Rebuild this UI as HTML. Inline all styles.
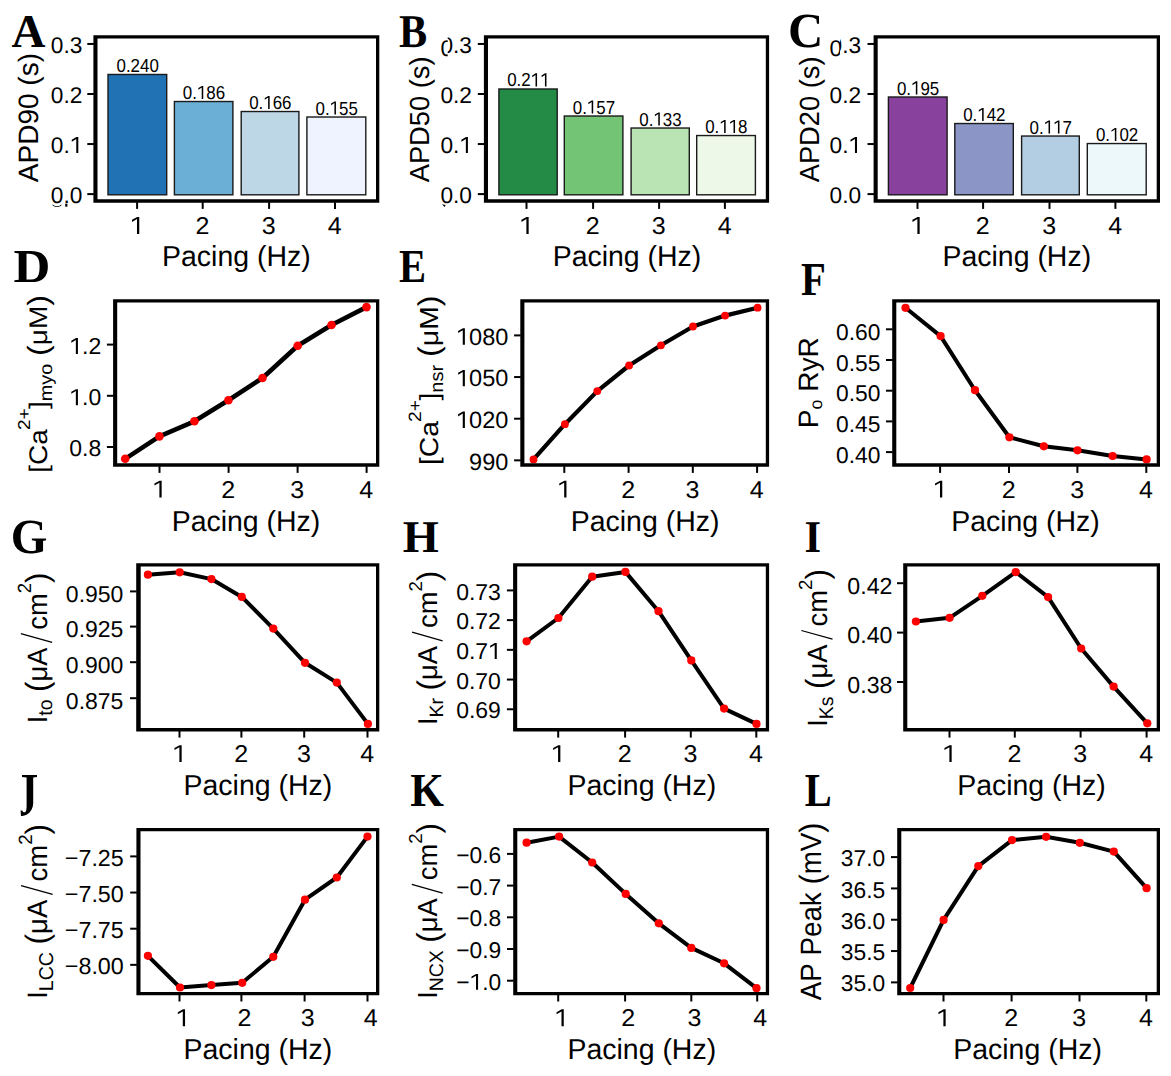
<!DOCTYPE html>
<html><head><meta charset="utf-8"><style>
html,body{margin:0;padding:0;background:#fff;}
svg{display:block;}
text{font-kerning:none;text-rendering:geometricPrecision;}
</style></head><body>
<svg width="1171" height="1076" viewBox="0 0 1171 1076">
<rect width="1171" height="1076" fill="#fff"/>
<line x1="87.3" y1="43.95" x2="93.9" y2="43.95" stroke="#000" stroke-width="2"/>
<g transform="translate(50.84 52.85)" fill="#000"><text x="0" y="0" font-size="22.7" font-family='"Liberation Sans", sans-serif' font-weight="normal">0.3</text></g>
<line x1="87.3" y1="94" x2="93.9" y2="94" stroke="#000" stroke-width="2"/>
<g transform="translate(50.84 102.9)" fill="#000"><text x="0" y="0" font-size="22.7" font-family='"Liberation Sans", sans-serif' font-weight="normal">0.2</text></g>
<line x1="87.3" y1="144.05" x2="93.9" y2="144.05" stroke="#000" stroke-width="2"/>
<g transform="translate(50.84 152.95)" fill="#000"><text x="0" y="0" font-size="22.7" font-family='"Liberation Sans", sans-serif'>0. </text><path d="M25.42 0 L25.42 -13.91 L20.93 -11.19 L20.93 -13.19 L25.58 -15.85 L27.47 -15.85 L27.47 0Z"/></g>
<line x1="87.3" y1="194.1" x2="93.9" y2="194.1" stroke="#000" stroke-width="2"/>
<g transform="translate(50.84 203)" fill="#000"><text x="0" y="0" font-size="22.7" font-family='"Liberation Sans", sans-serif' font-weight="normal">0.0</text></g>
<rect x="108" y="74.48" width="58.7" height="120.32" fill="#2171b5" stroke="#1a1a1a" stroke-width="1.4"/>
<g transform="translate(116.48 71.98) scale(0.9000 1)" fill="#000"><text x="0" y="0" font-size="18.8" font-family='"Liberation Sans", sans-serif' font-weight="normal">0.240</text></g>
<rect x="174.4" y="101.51" width="58.5" height="93.29" fill="#6baed6" stroke="#1a1a1a" stroke-width="1.4"/>
<g transform="translate(182.78 99.01) scale(0.9000 1)" fill="#000"><text x="0" y="0" font-size="18.8" font-family='"Liberation Sans", sans-serif'>0. 86</text><path d="M21.05 0 L21.05 -11.52 L17.33 -9.27 L17.33 -10.92 L21.19 -13.13 L22.75 -13.13 L22.75 0Z"/></g>
<rect x="241.2" y="111.52" width="57.7" height="83.28" fill="#bdd7e7" stroke="#1a1a1a" stroke-width="1.4"/>
<g transform="translate(249.18 109.02) scale(0.9000 1)" fill="#000"><text x="0" y="0" font-size="18.8" font-family='"Liberation Sans", sans-serif'>0. 66</text><path d="M21.05 0 L21.05 -11.52 L17.33 -9.27 L17.33 -10.92 L21.19 -13.13 L22.75 -13.13 L22.75 0Z"/></g>
<rect x="306.9" y="117.02" width="58.9" height="77.78" fill="#eff3ff" stroke="#1a1a1a" stroke-width="1.4"/>
<g transform="translate(315.48 114.52) scale(0.9000 1)" fill="#000"><text x="0" y="0" font-size="18.8" font-family='"Liberation Sans", sans-serif'>0. 55</text><path d="M21.05 0 L21.05 -11.52 L17.33 -9.27 L17.33 -10.92 L21.19 -13.13 L22.75 -13.13 L22.75 0Z"/></g>
<line x1="137.1" y1="202.2" x2="137.1" y2="208.9" stroke="#000" stroke-width="2"/>
<g transform="translate(129.84 233.9) scale(1.0300 1)" fill="#000"><text x="0" y="0" font-size="24.3" font-family='"Liberation Sans", sans-serif'> </text><path d="M6.94 0 L6.94 -14.89 L2.14 -11.98 L2.14 -14.12 L7.12 -16.97 L9.14 -16.97 L9.14 0Z"/></g>
<line x1="202.7" y1="202.2" x2="202.7" y2="208.9" stroke="#000" stroke-width="2"/>
<g transform="translate(195.44 233.9) scale(1.0300 1)" fill="#000"><text x="0" y="0" font-size="24.3" font-family='"Liberation Sans", sans-serif' font-weight="normal">2</text></g>
<line x1="269.1" y1="202.2" x2="269.1" y2="208.9" stroke="#000" stroke-width="2"/>
<g transform="translate(261.84 233.9) scale(1.0300 1)" fill="#000"><text x="0" y="0" font-size="24.3" font-family='"Liberation Sans", sans-serif' font-weight="normal">3</text></g>
<line x1="335" y1="202.2" x2="335" y2="208.9" stroke="#000" stroke-width="2"/>
<g transform="translate(327.74 233.9) scale(1.0300 1)" fill="#000"><text x="0" y="0" font-size="24.3" font-family='"Liberation Sans", sans-serif' font-weight="normal">4</text></g>
<path d="M93.4 35.2H97.5V202.7H93.4Z M93.4 35.2H379.3V38.5H93.4Z M376 35.2H379.3V202.7H376Z M93.4 199.3H379.3V202.7H93.4Z" fill="#000"/>
<g transform="translate(162.06 266.3) scale(0.9850 1)" fill="#000"><text x="0" y="0" font-size="28.9" font-family='"Liberation Sans", sans-serif' font-weight="normal">Pacing (Hz)</text></g>
<g transform="translate(38.2 182.25) rotate(-90) scale(1.0006 1)"><text font-family='"Liberation Sans", sans-serif' fill="#000"><tspan x="0" y="0" font-size="28.02">APD90 (s)</tspan></text></g>
<g transform="translate(11.44 46.9) scale(0.9997 1)" fill="#000"><text x="0" y="0" font-size="46.96" font-family='"Liberation Serif", serif' font-weight="bold">A</text></g>
<line x1="477.8" y1="43.95" x2="484.4" y2="43.95" stroke="#000" stroke-width="2"/>
<clipPath id="spBR"><rect x="447.7" y="30" width="60" height="30"/></clipPath>
<clipPath id="spBL"><rect x="387.7" y="30" width="60" height="30"/></clipPath>
<g clip-path="url(#spBR)"><g transform="translate(440.44 52.85)" fill="#000"><text x="0" y="0" font-size="22.7" font-family='"Liberation Sans", sans-serif' font-weight="normal">0.3</text></g></g>
<g clip-path="url(#spBL)"><g transform="translate(0 3.4)"><g transform="translate(440.44 52.85)" fill="#000"><text x="0" y="0" font-size="22.7" font-family='"Liberation Sans", sans-serif' font-weight="normal">0.3</text></g></g></g>
<line x1="477.8" y1="94" x2="484.4" y2="94" stroke="#000" stroke-width="2"/>
<g transform="translate(440.44 102.9)" fill="#000"><text x="0" y="0" font-size="22.7" font-family='"Liberation Sans", sans-serif' font-weight="normal">0.2</text></g>
<line x1="477.8" y1="144.05" x2="484.4" y2="144.05" stroke="#000" stroke-width="2"/>
<g transform="translate(440.44 152.95)" fill="#000"><text x="0" y="0" font-size="22.7" font-family='"Liberation Sans", sans-serif'>0. </text><path d="M25.42 0 L25.42 -13.91 L20.93 -11.19 L20.93 -13.19 L25.58 -15.85 L27.47 -15.85 L27.47 0Z"/></g>
<line x1="477.8" y1="194.1" x2="484.4" y2="194.1" stroke="#000" stroke-width="2"/>
<g transform="translate(440.44 203)" fill="#000"><text x="0" y="0" font-size="22.7" font-family='"Liberation Sans", sans-serif' font-weight="normal">0.0</text></g>
<rect x="498.9" y="88.99" width="58.3" height="105.81" fill="#238b45" stroke="#1a1a1a" stroke-width="1.4"/>
<g transform="translate(507.18 86.49) scale(0.9000 1)" fill="#000"><text x="0" y="0" font-size="18.8" font-family='"Liberation Sans", sans-serif'>0.2  </text><path d="M31.5 0 L31.5 -11.52 L27.79 -9.27 L27.79 -10.92 L31.64 -13.13 L33.2 -13.13 L33.2 0Z"/><path d="M41.96 0 L41.96 -11.52 L38.24 -9.27 L38.24 -10.92 L42.1 -13.13 L43.66 -13.13 L43.66 0Z"/></g>
<rect x="564.3" y="116.02" width="58.6" height="78.78" fill="#74c476" stroke="#1a1a1a" stroke-width="1.4"/>
<g transform="translate(572.73 113.52) scale(0.9000 1)" fill="#000"><text x="0" y="0" font-size="18.8" font-family='"Liberation Sans", sans-serif'>0. 57</text><path d="M21.05 0 L21.05 -11.52 L17.33 -9.27 L17.33 -10.92 L21.19 -13.13 L22.75 -13.13 L22.75 0Z"/></g>
<rect x="631.1" y="128.03" width="58.2" height="66.77" fill="#bae4b3" stroke="#1a1a1a" stroke-width="1.4"/>
<g transform="translate(639.33 125.53) scale(0.9000 1)" fill="#000"><text x="0" y="0" font-size="18.8" font-family='"Liberation Sans", sans-serif'>0. 33</text><path d="M21.05 0 L21.05 -11.52 L17.33 -9.27 L17.33 -10.92 L21.19 -13.13 L22.75 -13.13 L22.75 0Z"/></g>
<rect x="696.7" y="135.54" width="58.7" height="59.26" fill="#edf8e9" stroke="#1a1a1a" stroke-width="1.4"/>
<g transform="translate(705.18 133.04) scale(0.9000 1)" fill="#000"><text x="0" y="0" font-size="18.8" font-family='"Liberation Sans", sans-serif'>0.  8</text><path d="M21.05 0 L21.05 -11.52 L17.33 -9.27 L17.33 -10.92 L21.19 -13.13 L22.75 -13.13 L22.75 0Z"/><path d="M31.5 0 L31.5 -11.52 L27.79 -9.27 L27.79 -10.92 L31.64 -13.13 L33.2 -13.13 L33.2 0Z"/></g>
<line x1="526.5" y1="202.2" x2="526.5" y2="208.9" stroke="#000" stroke-width="2"/>
<g transform="translate(519.24 233.9) scale(1.0300 1)" fill="#000"><text x="0" y="0" font-size="24.3" font-family='"Liberation Sans", sans-serif'> </text><path d="M6.94 0 L6.94 -14.89 L2.14 -11.98 L2.14 -14.12 L7.12 -16.97 L9.14 -16.97 L9.14 0Z"/></g>
<line x1="593.1" y1="202.2" x2="593.1" y2="208.9" stroke="#000" stroke-width="2"/>
<g transform="translate(585.84 233.9) scale(1.0300 1)" fill="#000"><text x="0" y="0" font-size="24.3" font-family='"Liberation Sans", sans-serif' font-weight="normal">2</text></g>
<line x1="659.1" y1="202.2" x2="659.1" y2="208.9" stroke="#000" stroke-width="2"/>
<g transform="translate(651.84 233.9) scale(1.0300 1)" fill="#000"><text x="0" y="0" font-size="24.3" font-family='"Liberation Sans", sans-serif' font-weight="normal">3</text></g>
<line x1="724.9" y1="202.2" x2="724.9" y2="208.9" stroke="#000" stroke-width="2"/>
<g transform="translate(717.64 233.9) scale(1.0300 1)" fill="#000"><text x="0" y="0" font-size="24.3" font-family='"Liberation Sans", sans-serif' font-weight="normal">4</text></g>
<path d="M483.9 35.2H488V202.7H483.9Z M483.9 35.2H769.1V38.5H483.9Z M765.8 35.2H769.1V202.7H765.8Z M483.9 199.3H769.1V202.7H483.9Z" fill="#000"/>
<g transform="translate(552.66 266.3) scale(0.9850 1)" fill="#000"><text x="0" y="0" font-size="28.9" font-family='"Liberation Sans", sans-serif' font-weight="normal">Pacing (Hz)</text></g>
<g transform="translate(429.19 182.25) rotate(-90) scale(0.9883 1)"><text font-family='"Liberation Sans", sans-serif' fill="#000"><tspan x="0" y="0" font-size="27.59">APD50 (s)</tspan></text></g>
<g transform="translate(399.1 46.76) scale(0.8963 1)" fill="#000"><text x="0" y="0" font-size="47.13" font-family='"Liberation Serif", serif' font-weight="bold">B</text></g>
<line x1="867.5" y1="43.95" x2="874.1" y2="43.95" stroke="#000" stroke-width="2"/>
<clipPath id="spCR"><rect x="840.1" y="30" width="60" height="30"/></clipPath>
<clipPath id="spCL"><rect x="780.1" y="30" width="60" height="30"/></clipPath>
<g clip-path="url(#spCR)"><g transform="translate(829.54 52.85)" fill="#000"><text x="0" y="0" font-size="22.7" font-family='"Liberation Sans", sans-serif' font-weight="normal">0.3</text></g></g>
<g clip-path="url(#spCL)"><g transform="translate(0 2.8)"><g transform="translate(829.54 52.85)" fill="#000"><text x="0" y="0" font-size="22.7" font-family='"Liberation Sans", sans-serif' font-weight="normal">0.3</text></g></g></g>
<line x1="867.5" y1="94" x2="874.1" y2="94" stroke="#000" stroke-width="2"/>
<g transform="translate(829.54 102.9)" fill="#000"><text x="0" y="0" font-size="22.7" font-family='"Liberation Sans", sans-serif' font-weight="normal">0.2</text></g>
<line x1="867.5" y1="144.05" x2="874.1" y2="144.05" stroke="#000" stroke-width="2"/>
<g transform="translate(829.54 152.95)" fill="#000"><text x="0" y="0" font-size="22.7" font-family='"Liberation Sans", sans-serif'>0. </text><path d="M25.42 0 L25.42 -13.91 L20.93 -11.19 L20.93 -13.19 L25.58 -15.85 L27.47 -15.85 L27.47 0Z"/></g>
<line x1="867.5" y1="194.1" x2="874.1" y2="194.1" stroke="#000" stroke-width="2"/>
<g transform="translate(829.54 203)" fill="#000"><text x="0" y="0" font-size="22.7" font-family='"Liberation Sans", sans-serif' font-weight="normal">0.0</text></g>
<rect x="888.4" y="97" width="58.7" height="97.8" fill="#88419d" stroke="#1a1a1a" stroke-width="1.4"/>
<g transform="translate(896.88 94.5) scale(0.9000 1)" fill="#000"><text x="0" y="0" font-size="18.8" font-family='"Liberation Sans", sans-serif'>0. 95</text><path d="M21.05 0 L21.05 -11.52 L17.33 -9.27 L17.33 -10.92 L21.19 -13.13 L22.75 -13.13 L22.75 0Z"/></g>
<rect x="954.8" y="123.53" width="58.5" height="71.27" fill="#8c96c6" stroke="#1a1a1a" stroke-width="1.4"/>
<g transform="translate(963.18 121.03) scale(0.9000 1)" fill="#000"><text x="0" y="0" font-size="18.8" font-family='"Liberation Sans", sans-serif'>0. 42</text><path d="M21.05 0 L21.05 -11.52 L17.33 -9.27 L17.33 -10.92 L21.19 -13.13 L22.75 -13.13 L22.75 0Z"/></g>
<rect x="1021.6" y="136.04" width="57.7" height="58.76" fill="#b3cde3" stroke="#1a1a1a" stroke-width="1.4"/>
<g transform="translate(1029.58 133.54) scale(0.9000 1)" fill="#000"><text x="0" y="0" font-size="18.8" font-family='"Liberation Sans", sans-serif'>0.  7</text><path d="M21.05 0 L21.05 -11.52 L17.33 -9.27 L17.33 -10.92 L21.19 -13.13 L22.75 -13.13 L22.75 0Z"/><path d="M31.5 0 L31.5 -11.52 L27.79 -9.27 L27.79 -10.92 L31.64 -13.13 L33.2 -13.13 L33.2 0Z"/></g>
<rect x="1087.3" y="143.55" width="58.9" height="51.25" fill="#edf8fb" stroke="#1a1a1a" stroke-width="1.4"/>
<g transform="translate(1095.88 141.05) scale(0.9000 1)" fill="#000"><text x="0" y="0" font-size="18.8" font-family='"Liberation Sans", sans-serif'>0. 02</text><path d="M21.05 0 L21.05 -11.52 L17.33 -9.27 L17.33 -10.92 L21.19 -13.13 L22.75 -13.13 L22.75 0Z"/></g>
<line x1="917.5" y1="202.2" x2="917.5" y2="208.9" stroke="#000" stroke-width="2"/>
<g transform="translate(910.24 233.9) scale(1.0300 1)" fill="#000"><text x="0" y="0" font-size="24.3" font-family='"Liberation Sans", sans-serif'> </text><path d="M6.94 0 L6.94 -14.89 L2.14 -11.98 L2.14 -14.12 L7.12 -16.97 L9.14 -16.97 L9.14 0Z"/></g>
<line x1="983.1" y1="202.2" x2="983.1" y2="208.9" stroke="#000" stroke-width="2"/>
<g transform="translate(975.84 233.9) scale(1.0300 1)" fill="#000"><text x="0" y="0" font-size="24.3" font-family='"Liberation Sans", sans-serif' font-weight="normal">2</text></g>
<line x1="1049.5" y1="202.2" x2="1049.5" y2="208.9" stroke="#000" stroke-width="2"/>
<g transform="translate(1042.24 233.9) scale(1.0300 1)" fill="#000"><text x="0" y="0" font-size="24.3" font-family='"Liberation Sans", sans-serif' font-weight="normal">3</text></g>
<line x1="1115.4" y1="202.2" x2="1115.4" y2="208.9" stroke="#000" stroke-width="2"/>
<g transform="translate(1108.14 233.9) scale(1.0300 1)" fill="#000"><text x="0" y="0" font-size="24.3" font-family='"Liberation Sans", sans-serif' font-weight="normal">4</text></g>
<path d="M873.6 35.2H877.7V202.7H873.6Z M873.6 35.2H1160V38.5H873.6Z M1156.7 35.2H1160V202.7H1156.7Z M873.6 199.3H1160V202.7H873.6Z" fill="#000"/>
<g transform="translate(942.46 266.3) scale(0.9850 1)" fill="#000"><text x="0" y="0" font-size="28.9" font-family='"Liberation Sans", sans-serif' font-weight="normal">Pacing (Hz)</text></g>
<g transform="translate(819.27 182.25) rotate(-90) scale(0.9845 1)"><text font-family='"Liberation Sans", sans-serif' fill="#000"><tspan x="0" y="0" font-size="27.69">APD20 (s)</tspan></text></g>
<g transform="translate(788.11 47.32) scale(0.9955 1)" fill="#000"><text x="0" y="0" font-size="49.12" font-family='"Liberation Serif", serif' font-weight="bold">C</text></g>
<line x1="106.9" y1="344.6" x2="113.6" y2="344.6" stroke="#000" stroke-width="2"/>
<g transform="translate(69.28 354)" fill="#000"><text x="0" y="0" font-size="23" font-family='"Liberation Sans", sans-serif'> .2</text><path d="M6.57 0 L6.57 -14.09 L2.02 -11.34 L2.02 -13.36 L6.74 -16.06 L8.65 -16.06 L8.65 0Z"/></g>
<line x1="106.9" y1="395.8" x2="113.6" y2="395.8" stroke="#000" stroke-width="2"/>
<g transform="translate(69.28 405.2)" fill="#000"><text x="0" y="0" font-size="23" font-family='"Liberation Sans", sans-serif'> .0</text><path d="M6.57 0 L6.57 -14.09 L2.02 -11.34 L2.02 -13.36 L6.74 -16.06 L8.65 -16.06 L8.65 0Z"/></g>
<line x1="106.9" y1="447" x2="113.6" y2="447" stroke="#000" stroke-width="2"/>
<g transform="translate(69.28 456.4)" fill="#000"><text x="0" y="0" font-size="23" font-family='"Liberation Sans", sans-serif' font-weight="normal">0.8</text></g>
<line x1="159.5" y1="466.2" x2="159.5" y2="472.9" stroke="#000" stroke-width="2"/>
<g transform="translate(152.24 497.6) scale(1.0300 1)" fill="#000"><text x="0" y="0" font-size="24.3" font-family='"Liberation Sans", sans-serif'> </text><path d="M6.94 0 L6.94 -14.89 L2.14 -11.98 L2.14 -14.12 L7.12 -16.97 L9.14 -16.97 L9.14 0Z"/></g>
<line x1="228.6" y1="466.2" x2="228.6" y2="472.9" stroke="#000" stroke-width="2"/>
<g transform="translate(221.34 497.6) scale(1.0300 1)" fill="#000"><text x="0" y="0" font-size="24.3" font-family='"Liberation Sans", sans-serif' font-weight="normal">2</text></g>
<line x1="297.6" y1="466.2" x2="297.6" y2="472.9" stroke="#000" stroke-width="2"/>
<g transform="translate(290.34 497.6) scale(1.0300 1)" fill="#000"><text x="0" y="0" font-size="24.3" font-family='"Liberation Sans", sans-serif' font-weight="normal">3</text></g>
<line x1="366.6" y1="466.2" x2="366.6" y2="472.9" stroke="#000" stroke-width="2"/>
<g transform="translate(359.34 497.6) scale(1.0300 1)" fill="#000"><text x="0" y="0" font-size="24.3" font-family='"Liberation Sans", sans-serif' font-weight="normal">4</text></g>
<path d="M125.2 458.8 L159.4 436.4 L194.4 421.3 L228.4 400.2 L262.5 378 L297.7 345.8 L331.5 325 L366.5 307.1" fill="none" stroke="#000" stroke-width="4.6" stroke-linejoin="round" stroke-linecap="round"/>
<circle cx="125.2" cy="458.8" r="4.3" fill="#f00"/>
<circle cx="159.4" cy="436.4" r="4.3" fill="#f00"/>
<circle cx="194.4" cy="421.3" r="4.3" fill="#f00"/>
<circle cx="228.4" cy="400.2" r="4.3" fill="#f00"/>
<circle cx="262.5" cy="378" r="4.3" fill="#f00"/>
<circle cx="297.7" cy="345.8" r="4.3" fill="#f00"/>
<circle cx="331.5" cy="325" r="4.3" fill="#f00"/>
<circle cx="366.5" cy="307.1" r="4.3" fill="#f00"/>
<path d="M113.1 299.2H117.2V466.7H113.1Z M113.1 299.2H379.3V302.5H113.1Z M376 299.2H379.3V466.7H376Z M113.1 463.3H379.3V466.7H113.1Z" fill="#000"/>
<g transform="translate(171.66 530.5) scale(0.9850 1)" fill="#000"><text x="0" y="0" font-size="28.9" font-family='"Liberation Sans", sans-serif' font-weight="normal">Pacing (Hz)</text></g>
<g transform="translate(13.6 281.81) scale(1.0823 1)" fill="#000"><text x="0" y="0" font-size="47.2" font-family='"Liberation Serif", serif' font-weight="bold">D</text></g>
<g transform="translate(46.67 472.79) rotate(-90) scale(1.0995 1)"><text font-family='"Liberation Sans", sans-serif' fill="#000"><tspan x="0" y="0" font-size="25.44">[Ca</tspan><tspan x="38.82" y="-16.79" font-size="17.3">2+</tspan><tspan x="58.03" y="0" font-size="25.44">]</tspan><tspan x="65.1" y="5.09" font-size="18.06">myo</tspan><tspan x="99.22" y="0" font-size="25.44"> </tspan><tspan x="106.28" y="1.02" font-size="29.25">(</tspan><tspan x="116.02" y="0" font-size="25.44">μM</tspan><tspan x="151.87" y="1.02" font-size="29.25">)</tspan></text></g>
<line x1="514.1" y1="335.4" x2="520.8" y2="335.4" stroke="#000" stroke-width="2"/>
<g transform="translate(456.04 344.7)" fill="#000"><text x="0" y="0" font-size="23.5" font-family='"Liberation Sans", sans-serif'> 080</text><path d="M6.71 0 L6.71 -14.4 L2.07 -11.59 L2.07 -13.65 L6.88 -16.41 L8.84 -16.41 L8.84 0Z"/></g>
<line x1="514.1" y1="377.05" x2="520.8" y2="377.05" stroke="#000" stroke-width="2"/>
<g transform="translate(456.04 386.35)" fill="#000"><text x="0" y="0" font-size="23.5" font-family='"Liberation Sans", sans-serif'> 050</text><path d="M6.71 0 L6.71 -14.4 L2.07 -11.59 L2.07 -13.65 L6.88 -16.41 L8.84 -16.41 L8.84 0Z"/></g>
<line x1="514.1" y1="418.7" x2="520.8" y2="418.7" stroke="#000" stroke-width="2"/>
<g transform="translate(456.04 428)" fill="#000"><text x="0" y="0" font-size="23.5" font-family='"Liberation Sans", sans-serif'> 020</text><path d="M6.71 0 L6.71 -14.4 L2.07 -11.59 L2.07 -13.65 L6.88 -16.41 L8.84 -16.41 L8.84 0Z"/></g>
<line x1="514.1" y1="460.35" x2="520.8" y2="460.35" stroke="#000" stroke-width="2"/>
<g transform="translate(469.11 469.65)" fill="#000"><text x="0" y="0" font-size="23.5" font-family='"Liberation Sans", sans-serif' font-weight="normal">990</text></g>
<line x1="564.3" y1="466.2" x2="564.3" y2="472.9" stroke="#000" stroke-width="2"/>
<g transform="translate(557.04 497.6) scale(1.0300 1)" fill="#000"><text x="0" y="0" font-size="24.3" font-family='"Liberation Sans", sans-serif'> </text><path d="M6.94 0 L6.94 -14.89 L2.14 -11.98 L2.14 -14.12 L7.12 -16.97 L9.14 -16.97 L9.14 0Z"/></g>
<line x1="628.6" y1="466.2" x2="628.6" y2="472.9" stroke="#000" stroke-width="2"/>
<g transform="translate(621.34 497.6) scale(1.0300 1)" fill="#000"><text x="0" y="0" font-size="24.3" font-family='"Liberation Sans", sans-serif' font-weight="normal">2</text></g>
<line x1="692.8" y1="466.2" x2="692.8" y2="472.9" stroke="#000" stroke-width="2"/>
<g transform="translate(685.54 497.6) scale(1.0300 1)" fill="#000"><text x="0" y="0" font-size="24.3" font-family='"Liberation Sans", sans-serif' font-weight="normal">3</text></g>
<line x1="757.1" y1="466.2" x2="757.1" y2="472.9" stroke="#000" stroke-width="2"/>
<g transform="translate(749.84 497.6) scale(1.0300 1)" fill="#000"><text x="0" y="0" font-size="24.3" font-family='"Liberation Sans", sans-serif' font-weight="normal">4</text></g>
<path d="M533.5 459.4 L564.9 424.2 L597.3 391.1 L629.1 365.5 L660.9 345.3 L693 326.5 L725.1 315.6 L757.6 307.7" fill="none" stroke="#000" stroke-width="4.2" stroke-linejoin="round" stroke-linecap="round"/>
<circle cx="533.5" cy="459.4" r="3.9" fill="#f00"/>
<circle cx="564.9" cy="424.2" r="3.9" fill="#f00"/>
<circle cx="597.3" cy="391.1" r="3.9" fill="#f00"/>
<circle cx="629.1" cy="365.5" r="3.9" fill="#f00"/>
<circle cx="660.9" cy="345.3" r="3.9" fill="#f00"/>
<circle cx="693" cy="326.5" r="3.9" fill="#f00"/>
<circle cx="725.1" cy="315.6" r="3.9" fill="#f00"/>
<circle cx="757.6" cy="307.7" r="3.9" fill="#f00"/>
<path d="M520.3 299.2H524.4V466.7H520.3Z M520.3 299.2H769.1V302.5H520.3Z M765.8 299.2H769.1V466.7H765.8Z M520.3 463.3H769.1V466.7H520.3Z" fill="#000"/>
<g transform="translate(570.76 530.5) scale(0.9850 1)" fill="#000"><text x="0" y="0" font-size="28.9" font-family='"Liberation Sans", sans-serif' font-weight="normal">Pacing (Hz)</text></g>
<g transform="translate(399.11 281.9) scale(0.8574 1)" fill="#000"><text x="0" y="0" font-size="47.34" font-family='"Liberation Serif", serif' font-weight="bold">E</text></g>
<g transform="translate(438.04 465.01) rotate(-90) scale(1.0821 1)"><text font-family='"Liberation Sans", sans-serif' fill="#000"><tspan x="0" y="0" font-size="26.12">[Ca</tspan><tspan x="39.86" y="-17.24" font-size="17.76">2+</tspan><tspan x="59.58" y="0" font-size="26.12">]</tspan><tspan x="66.84" y="5.22" font-size="18.54">nsr</tspan><tspan x="92.6" y="0" font-size="26.12"> </tspan><tspan x="99.85" y="1.04" font-size="30.03">(</tspan><tspan x="109.86" y="0" font-size="26.12">μM</tspan><tspan x="146.66" y="1.04" font-size="30.03">)</tspan></text></g>
<line x1="886" y1="329.3" x2="892.7" y2="329.3" stroke="#000" stroke-width="2"/>
<g transform="translate(836.02 339.8)" fill="#000"><text x="0" y="0" font-size="22.8" font-family='"Liberation Sans", sans-serif' font-weight="normal">0.60</text></g>
<line x1="886" y1="360" x2="892.7" y2="360" stroke="#000" stroke-width="2"/>
<g transform="translate(836.02 370.5)" fill="#000"><text x="0" y="0" font-size="22.8" font-family='"Liberation Sans", sans-serif' font-weight="normal">0.55</text></g>
<line x1="886" y1="390.7" x2="892.7" y2="390.7" stroke="#000" stroke-width="2"/>
<g transform="translate(836.02 401.2)" fill="#000"><text x="0" y="0" font-size="22.8" font-family='"Liberation Sans", sans-serif' font-weight="normal">0.50</text></g>
<line x1="886" y1="421.4" x2="892.7" y2="421.4" stroke="#000" stroke-width="2"/>
<g transform="translate(836.02 431.9)" fill="#000"><text x="0" y="0" font-size="22.8" font-family='"Liberation Sans", sans-serif' font-weight="normal">0.45</text></g>
<line x1="886" y1="452.1" x2="892.7" y2="452.1" stroke="#000" stroke-width="2"/>
<g transform="translate(836.02 462.6)" fill="#000"><text x="0" y="0" font-size="22.8" font-family='"Liberation Sans", sans-serif' font-weight="normal">0.40</text></g>
<line x1="940.1" y1="466.2" x2="940.1" y2="472.9" stroke="#000" stroke-width="2"/>
<g transform="translate(932.84 497.6) scale(1.0300 1)" fill="#000"><text x="0" y="0" font-size="24.3" font-family='"Liberation Sans", sans-serif'> </text><path d="M6.94 0 L6.94 -14.89 L2.14 -11.98 L2.14 -14.12 L7.12 -16.97 L9.14 -16.97 L9.14 0Z"/></g>
<line x1="1009" y1="466.2" x2="1009" y2="472.9" stroke="#000" stroke-width="2"/>
<g transform="translate(1001.74 497.6) scale(1.0300 1)" fill="#000"><text x="0" y="0" font-size="24.3" font-family='"Liberation Sans", sans-serif' font-weight="normal">2</text></g>
<line x1="1077.4" y1="466.2" x2="1077.4" y2="472.9" stroke="#000" stroke-width="2"/>
<g transform="translate(1070.14 497.6) scale(1.0300 1)" fill="#000"><text x="0" y="0" font-size="24.3" font-family='"Liberation Sans", sans-serif' font-weight="normal">3</text></g>
<line x1="1146.3" y1="466.2" x2="1146.3" y2="472.9" stroke="#000" stroke-width="2"/>
<g transform="translate(1139.04 497.6) scale(1.0300 1)" fill="#000"><text x="0" y="0" font-size="24.3" font-family='"Liberation Sans", sans-serif' font-weight="normal">4</text></g>
<path d="M905.5 307.8 L940.6 336.1 L975 390.2 L1009.4 437.3 L1043.8 446.3 L1077.5 450.3 L1112.6 456 L1146.6 459.4" fill="none" stroke="#000" stroke-width="4" stroke-linejoin="round" stroke-linecap="round"/>
<circle cx="905.5" cy="307.8" r="4.1" fill="#f00"/>
<circle cx="940.6" cy="336.1" r="4.1" fill="#f00"/>
<circle cx="975" cy="390.2" r="4.1" fill="#f00"/>
<circle cx="1009.4" cy="437.3" r="4.1" fill="#f00"/>
<circle cx="1043.8" cy="446.3" r="4.1" fill="#f00"/>
<circle cx="1077.5" cy="450.3" r="4.1" fill="#f00"/>
<circle cx="1112.6" cy="456" r="4.1" fill="#f00"/>
<circle cx="1146.6" cy="459.4" r="4.1" fill="#f00"/>
<path d="M892.2 299.2H896.3V466.7H892.2Z M892.2 299.2H1160V302.5H892.2Z M1156.7 299.2H1160V466.7H1156.7Z M892.2 463.3H1160V466.7H892.2Z" fill="#000"/>
<g transform="translate(951.16 530.5) scale(0.9850 1)" fill="#000"><text x="0" y="0" font-size="28.9" font-family='"Liberation Sans", sans-serif' font-weight="normal">Pacing (Hz)</text></g>
<g transform="translate(801.11 294.8) scale(0.8618 1)" fill="#000"><text x="0" y="0" font-size="47.19" font-family='"Liberation Serif", serif' font-weight="bold">F</text></g>
<g transform="translate(817.68 428.31) rotate(-90) scale(1.0046 1)"><text font-family='"Liberation Sans", sans-serif' fill="#000"><tspan x="0" y="0" font-size="28.03">P</tspan><tspan x="18.69" y="4.62" font-size="17.66">o</tspan><tspan x="28.52" y="0" font-size="28.03"> RyR</tspan></text></g>
<line x1="130" y1="591.4" x2="136.7" y2="591.4" stroke="#000" stroke-width="2"/>
<g transform="translate(65.84 602.1)" fill="#000"><text x="0" y="0" font-size="23" font-family='"Liberation Sans", sans-serif' font-weight="normal">0.950</text></g>
<line x1="130" y1="626.6" x2="136.7" y2="626.6" stroke="#000" stroke-width="2"/>
<g transform="translate(65.84 637.3)" fill="#000"><text x="0" y="0" font-size="23" font-family='"Liberation Sans", sans-serif' font-weight="normal">0.925</text></g>
<line x1="130" y1="662.2" x2="136.7" y2="662.2" stroke="#000" stroke-width="2"/>
<g transform="translate(65.84 672.9)" fill="#000"><text x="0" y="0" font-size="23" font-family='"Liberation Sans", sans-serif' font-weight="normal">0.900</text></g>
<line x1="130" y1="698.2" x2="136.7" y2="698.2" stroke="#000" stroke-width="2"/>
<g transform="translate(65.84 708.9)" fill="#000"><text x="0" y="0" font-size="23" font-family='"Liberation Sans", sans-serif' font-weight="normal">0.875</text></g>
<line x1="179.5" y1="730.9" x2="179.5" y2="737.6" stroke="#000" stroke-width="2"/>
<g transform="translate(172.24 762.1) scale(1.0300 1)" fill="#000"><text x="0" y="0" font-size="24.3" font-family='"Liberation Sans", sans-serif'> </text><path d="M6.94 0 L6.94 -14.89 L2.14 -11.98 L2.14 -14.12 L7.12 -16.97 L9.14 -16.97 L9.14 0Z"/></g>
<line x1="241.4" y1="730.9" x2="241.4" y2="737.6" stroke="#000" stroke-width="2"/>
<g transform="translate(234.14 762.1) scale(1.0300 1)" fill="#000"><text x="0" y="0" font-size="24.3" font-family='"Liberation Sans", sans-serif' font-weight="normal">2</text></g>
<line x1="304.2" y1="730.9" x2="304.2" y2="737.6" stroke="#000" stroke-width="2"/>
<g transform="translate(296.94 762.1) scale(1.0300 1)" fill="#000"><text x="0" y="0" font-size="24.3" font-family='"Liberation Sans", sans-serif' font-weight="normal">3</text></g>
<line x1="367.5" y1="730.9" x2="367.5" y2="737.6" stroke="#000" stroke-width="2"/>
<g transform="translate(360.24 762.1) scale(1.0300 1)" fill="#000"><text x="0" y="0" font-size="24.3" font-family='"Liberation Sans", sans-serif' font-weight="normal">4</text></g>
<path d="M147.9 574.7 L179.7 572.3 L211.4 579.1 L241.8 596.9 L273.3 628.6 L305 662.8 L336.8 682.6 L367.9 723.9" fill="none" stroke="#000" stroke-width="4" stroke-linejoin="round" stroke-linecap="round"/>
<circle cx="147.9" cy="574.7" r="4.1" fill="#f00"/>
<circle cx="179.7" cy="572.3" r="4.1" fill="#f00"/>
<circle cx="211.4" cy="579.1" r="4.1" fill="#f00"/>
<circle cx="241.8" cy="596.9" r="4.1" fill="#f00"/>
<circle cx="273.3" cy="628.6" r="4.1" fill="#f00"/>
<circle cx="305" cy="662.8" r="4.1" fill="#f00"/>
<circle cx="336.8" cy="682.6" r="4.1" fill="#f00"/>
<circle cx="367.9" cy="723.9" r="4.1" fill="#f00"/>
<path d="M136.2 563.3H140.7V731.4H136.2Z M136.2 563.3H379.3V566.6H136.2Z M376 563.3H379.3V731.4H376Z M136.2 728H379.3V731.4H136.2Z" fill="#000"/>
<g transform="translate(183.56 794.6) scale(0.9850 1)" fill="#000"><text x="0" y="0" font-size="28.9" font-family='"Liberation Sans", sans-serif' font-weight="normal">Pacing (Hz)</text></g>
<g transform="translate(10.8 553.32) scale(0.9605 1)" fill="#000"><text x="0" y="0" font-size="48.97" font-family='"Liberation Serif", serif' font-weight="bold">G</text></g>
<g transform="translate(46.83 723.22) rotate(-90) scale(0.9755 1)"><text font-family='"Liberation Sans", sans-serif' fill="#000"><tspan x="0" y="0" font-size="27.94">I</tspan><tspan x="7.76" y="5.59" font-size="19.84">to</tspan><tspan x="24.3" y="0" font-size="27.94"> </tspan><tspan x="32.07" y="1.12" font-size="32.13">(</tspan><tspan x="42.77" y="0" font-size="27.94">μA</tspan><tspan x="95.94" y="0" font-size="27.94">cm</tspan><tspan x="133.18" y="-15.37" font-size="19">2</tspan><tspan x="143.74" y="1.12" font-size="32.13">)</tspan></text><line x1="82.81" y1="5.31" x2="91.75" y2="-25.98" stroke="#000" stroke-width="1.3"/></g>
<line x1="506.9" y1="590.4" x2="513.6" y2="590.4" stroke="#000" stroke-width="2"/>
<g transform="translate(456.15 599.6)" fill="#000"><text x="0" y="0" font-size="23" font-family='"Liberation Sans", sans-serif' font-weight="normal">0.73</text></g>
<line x1="506.9" y1="620.12" x2="513.6" y2="620.12" stroke="#000" stroke-width="2"/>
<g transform="translate(456.15 629.32)" fill="#000"><text x="0" y="0" font-size="23" font-family='"Liberation Sans", sans-serif' font-weight="normal">0.72</text></g>
<line x1="506.9" y1="649.84" x2="513.6" y2="649.84" stroke="#000" stroke-width="2"/>
<g transform="translate(456.15 659.04)" fill="#000"><text x="0" y="0" font-size="23" font-family='"Liberation Sans", sans-serif'>0.7 </text><path d="M38.54 0 L38.54 -14.09 L33.99 -11.34 L33.99 -13.36 L38.71 -16.06 L40.62 -16.06 L40.62 0Z"/></g>
<line x1="506.9" y1="679.56" x2="513.6" y2="679.56" stroke="#000" stroke-width="2"/>
<g transform="translate(456.15 688.76)" fill="#000"><text x="0" y="0" font-size="23" font-family='"Liberation Sans", sans-serif' font-weight="normal">0.70</text></g>
<line x1="506.9" y1="709.28" x2="513.6" y2="709.28" stroke="#000" stroke-width="2"/>
<g transform="translate(456.15 718.48)" fill="#000"><text x="0" y="0" font-size="23" font-family='"Liberation Sans", sans-serif' font-weight="normal">0.69</text></g>
<line x1="558.2" y1="730.9" x2="558.2" y2="737.6" stroke="#000" stroke-width="2"/>
<g transform="translate(550.94 762.1) scale(1.0300 1)" fill="#000"><text x="0" y="0" font-size="24.3" font-family='"Liberation Sans", sans-serif'> </text><path d="M6.94 0 L6.94 -14.89 L2.14 -11.98 L2.14 -14.12 L7.12 -16.97 L9.14 -16.97 L9.14 0Z"/></g>
<line x1="625.1" y1="730.9" x2="625.1" y2="737.6" stroke="#000" stroke-width="2"/>
<g transform="translate(617.84 762.1) scale(1.0300 1)" fill="#000"><text x="0" y="0" font-size="24.3" font-family='"Liberation Sans", sans-serif' font-weight="normal">2</text></g>
<line x1="690.8" y1="730.9" x2="690.8" y2="737.6" stroke="#000" stroke-width="2"/>
<g transform="translate(683.54 762.1) scale(1.0300 1)" fill="#000"><text x="0" y="0" font-size="24.3" font-family='"Liberation Sans", sans-serif' font-weight="normal">3</text></g>
<line x1="756.3" y1="730.9" x2="756.3" y2="737.6" stroke="#000" stroke-width="2"/>
<g transform="translate(749.04 762.1) scale(1.0300 1)" fill="#000"><text x="0" y="0" font-size="24.3" font-family='"Liberation Sans", sans-serif' font-weight="normal">4</text></g>
<path d="M526.6 641.3 L558.4 618 L592.2 576.7 L625.4 571.9 L658.5 611.2 L691.3 660.4 L724.1 708.6 L756.5 723.9" fill="none" stroke="#000" stroke-width="4" stroke-linejoin="round" stroke-linecap="round"/>
<circle cx="526.6" cy="641.3" r="4.1" fill="#f00"/>
<circle cx="558.4" cy="618" r="4.1" fill="#f00"/>
<circle cx="592.2" cy="576.7" r="4.1" fill="#f00"/>
<circle cx="625.4" cy="571.9" r="4.1" fill="#f00"/>
<circle cx="658.5" cy="611.2" r="4.1" fill="#f00"/>
<circle cx="691.3" cy="660.4" r="4.1" fill="#f00"/>
<circle cx="724.1" cy="708.6" r="4.1" fill="#f00"/>
<circle cx="756.5" cy="723.9" r="4.1" fill="#f00"/>
<path d="M513.1 563.3H517.2V731.4H513.1Z M513.1 563.3H769.1V566.6H513.1Z M765.8 563.3H769.1V731.4H765.8Z M513.1 728H769.1V731.4H513.1Z" fill="#000"/>
<g transform="translate(567.46 794.6) scale(0.9850 1)" fill="#000"><text x="0" y="0" font-size="28.9" font-family='"Liberation Sans", sans-serif' font-weight="normal">Pacing (Hz)</text></g>
<g transform="translate(402.81 551.8) scale(1.0187 1)" fill="#000"><text x="0" y="0" font-size="45.51" font-family='"Liberation Serif", serif' font-weight="bold">H</text></g>
<g transform="translate(437.42 725.12) rotate(-90) scale(1.0042 1)"><text font-family='"Liberation Sans", sans-serif' fill="#000"><tspan x="0" y="0" font-size="27.25">I</tspan><tspan x="7.57" y="5.45" font-size="19.35">Kr</tspan><tspan x="26.92" y="0" font-size="27.25"> </tspan><tspan x="34.49" y="1.09" font-size="31.33">(</tspan><tspan x="44.92" y="0" font-size="27.25">μA</tspan><tspan x="96.78" y="0" font-size="27.25">cm</tspan><tspan x="133.1" y="-14.99" font-size="18.53">2</tspan><tspan x="143.4" y="1.09" font-size="31.33">)</tspan></text><line x1="83.97" y1="5.18" x2="92.69" y2="-25.34" stroke="#000" stroke-width="1.3"/></g>
<line x1="897" y1="583.2" x2="903.7" y2="583.2" stroke="#000" stroke-width="2"/>
<g transform="translate(847.31 594)" fill="#000"><text x="0" y="0" font-size="23.2" font-family='"Liberation Sans", sans-serif' font-weight="normal">0.42</text></g>
<line x1="897" y1="632.6" x2="903.7" y2="632.6" stroke="#000" stroke-width="2"/>
<g transform="translate(847.31 643.4)" fill="#000"><text x="0" y="0" font-size="23.2" font-family='"Liberation Sans", sans-serif' font-weight="normal">0.40</text></g>
<line x1="897" y1="682" x2="903.7" y2="682" stroke="#000" stroke-width="2"/>
<g transform="translate(847.31 692.8)" fill="#000"><text x="0" y="0" font-size="23.2" font-family='"Liberation Sans", sans-serif' font-weight="normal">0.38</text></g>
<line x1="949.5" y1="730.9" x2="949.5" y2="737.6" stroke="#000" stroke-width="2"/>
<g transform="translate(942.24 762.1) scale(1.0300 1)" fill="#000"><text x="0" y="0" font-size="24.3" font-family='"Liberation Sans", sans-serif'> </text><path d="M6.94 0 L6.94 -14.89 L2.14 -11.98 L2.14 -14.12 L7.12 -16.97 L9.14 -16.97 L9.14 0Z"/></g>
<line x1="1014.8" y1="730.9" x2="1014.8" y2="737.6" stroke="#000" stroke-width="2"/>
<g transform="translate(1007.54 762.1) scale(1.0300 1)" fill="#000"><text x="0" y="0" font-size="24.3" font-family='"Liberation Sans", sans-serif' font-weight="normal">2</text></g>
<line x1="1080.6" y1="730.9" x2="1080.6" y2="737.6" stroke="#000" stroke-width="2"/>
<g transform="translate(1073.34 762.1) scale(1.0300 1)" fill="#000"><text x="0" y="0" font-size="24.3" font-family='"Liberation Sans", sans-serif' font-weight="normal">3</text></g>
<line x1="1146.6" y1="730.9" x2="1146.6" y2="737.6" stroke="#000" stroke-width="2"/>
<g transform="translate(1139.34 762.1) scale(1.0300 1)" fill="#000"><text x="0" y="0" font-size="24.3" font-family='"Liberation Sans", sans-serif' font-weight="normal">4</text></g>
<path d="M915.9 621.5 L949.6 617.8 L982.3 595.8 L1015.7 572.1 L1048.1 597.1 L1081.2 648.5 L1113.6 686.6 L1147.3 723.3" fill="none" stroke="#000" stroke-width="4" stroke-linejoin="round" stroke-linecap="round"/>
<circle cx="915.9" cy="621.5" r="4.1" fill="#f00"/>
<circle cx="949.6" cy="617.8" r="4.1" fill="#f00"/>
<circle cx="982.3" cy="595.8" r="4.1" fill="#f00"/>
<circle cx="1015.7" cy="572.1" r="4.1" fill="#f00"/>
<circle cx="1048.1" cy="597.1" r="4.1" fill="#f00"/>
<circle cx="1081.2" cy="648.5" r="4.1" fill="#f00"/>
<circle cx="1113.6" cy="686.6" r="4.1" fill="#f00"/>
<circle cx="1147.3" cy="723.3" r="4.1" fill="#f00"/>
<path d="M903.2 563.3H907.3V731.4H903.2Z M903.2 563.3H1160V566.6H903.2Z M1156.7 563.3H1160V731.4H1156.7Z M903.2 728H1160V731.4H903.2Z" fill="#000"/>
<g transform="translate(957.16 794.6) scale(0.9850 1)" fill="#000"><text x="0" y="0" font-size="28.9" font-family='"Liberation Sans", sans-serif' font-weight="normal">Pacing (Hz)</text></g>
<g transform="translate(804.47 551.8) scale(0.9355 1)" fill="#000"><text x="0" y="0" font-size="45.51" font-family='"Liberation Serif", serif' font-weight="bold">I</text></g>
<g transform="translate(827.25 726.72) rotate(-90) scale(0.9811 1)"><text font-family='"Liberation Sans", sans-serif' fill="#000"><tspan x="0" y="0" font-size="27.86">I</tspan><tspan x="7.74" y="5.57" font-size="19.78">Ks</tspan><tspan x="30.83" y="0" font-size="27.86"> </tspan><tspan x="38.57" y="1.11" font-size="32.04">(</tspan><tspan x="49.24" y="0" font-size="27.86">μA</tspan><tspan x="102.26" y="0" font-size="27.86">cm</tspan><tspan x="139.4" y="-15.32" font-size="18.95">2</tspan><tspan x="149.94" y="1.11" font-size="32.04">)</tspan></text><line x1="89.17" y1="5.29" x2="98.08" y2="-25.91" stroke="#000" stroke-width="1.3"/></g>
<line x1="130.2" y1="856.4" x2="136.9" y2="856.4" stroke="#000" stroke-width="2"/>
<g transform="translate(64.82 865.6)" fill="#000"><text x="0" y="0" font-size="23.3" font-family='"Liberation Sans", sans-serif' font-weight="normal">&#8722;7.25</text></g>
<line x1="130.2" y1="892.55" x2="136.9" y2="892.55" stroke="#000" stroke-width="2"/>
<g transform="translate(64.82 901.75)" fill="#000"><text x="0" y="0" font-size="23.3" font-family='"Liberation Sans", sans-serif' font-weight="normal">&#8722;7.50</text></g>
<line x1="130.2" y1="928.7" x2="136.9" y2="928.7" stroke="#000" stroke-width="2"/>
<g transform="translate(64.82 937.9)" fill="#000"><text x="0" y="0" font-size="23.3" font-family='"Liberation Sans", sans-serif' font-weight="normal">&#8722;7.75</text></g>
<line x1="130.2" y1="964.85" x2="136.9" y2="964.85" stroke="#000" stroke-width="2"/>
<g transform="translate(64.82 974.05)" fill="#000"><text x="0" y="0" font-size="23.3" font-family='"Liberation Sans", sans-serif' font-weight="normal">&#8722;8.00</text></g>
<line x1="179.5" y1="994.8" x2="179.5" y2="1001.5" stroke="#000" stroke-width="2"/>
<g transform="translate(175.64 1026.3) scale(1.0300 1)" fill="#000"><text x="0" y="0" font-size="24.3" font-family='"Liberation Sans", sans-serif'> </text><path d="M6.94 0 L6.94 -14.89 L2.14 -11.98 L2.14 -14.12 L7.12 -16.97 L9.14 -16.97 L9.14 0Z"/></g>
<line x1="241.4" y1="994.8" x2="241.4" y2="1001.5" stroke="#000" stroke-width="2"/>
<g transform="translate(237.54 1026.3) scale(1.0300 1)" fill="#000"><text x="0" y="0" font-size="24.3" font-family='"Liberation Sans", sans-serif' font-weight="normal">2</text></g>
<line x1="304.6" y1="994.8" x2="304.6" y2="1001.5" stroke="#000" stroke-width="2"/>
<g transform="translate(300.74 1026.3) scale(1.0300 1)" fill="#000"><text x="0" y="0" font-size="24.3" font-family='"Liberation Sans", sans-serif' font-weight="normal">3</text></g>
<line x1="367.5" y1="994.8" x2="367.5" y2="1001.5" stroke="#000" stroke-width="2"/>
<g transform="translate(363.64 1026.3) scale(1.0300 1)" fill="#000"><text x="0" y="0" font-size="24.3" font-family='"Liberation Sans", sans-serif' font-weight="normal">4</text></g>
<path d="M147.9 955.8 L180 987.5 L211.4 985.1 L242.2 982.8 L273.3 956.8 L305 899.7 L336.8 877.5 L367.5 836.6" fill="none" stroke="#000" stroke-width="4" stroke-linejoin="round" stroke-linecap="round"/>
<circle cx="147.9" cy="955.8" r="4.1" fill="#f00"/>
<circle cx="180" cy="987.5" r="4.1" fill="#f00"/>
<circle cx="211.4" cy="985.1" r="4.1" fill="#f00"/>
<circle cx="242.2" cy="982.8" r="4.1" fill="#f00"/>
<circle cx="273.3" cy="956.8" r="4.1" fill="#f00"/>
<circle cx="305" cy="899.7" r="4.1" fill="#f00"/>
<circle cx="336.8" cy="877.5" r="4.1" fill="#f00"/>
<circle cx="367.5" cy="836.6" r="4.1" fill="#f00"/>
<path d="M136.4 827.9H140.5V995.3H136.4Z M136.4 827.9H379.3V831.2H136.4Z M376 827.9H379.3V995.3H376Z M136.4 991.9H379.3V995.3H136.4Z" fill="#000"/>
<g transform="translate(183.56 1058.7) scale(0.9850 1)" fill="#000"><text x="0" y="0" font-size="28.9" font-family='"Liberation Sans", sans-serif' font-weight="normal">Pacing (Hz)</text></g>
<path d="M22 775 H37 L37 777 L33.2 777.6 V803.5 C33 808 31 812 27 814.6 C25 815.8 23 816.2 21 816 L20.6 810.6 L22.2 810.4 C23 812.3 24.3 812.7 25.3 812 C26.3 811.2 26.6 809 26.6 806 V777.6 L22 777 Z" fill="#000"/>
<g transform="translate(47.27 998.84) rotate(-90) scale(0.9774 1)"><text font-family='"Liberation Sans", sans-serif' fill="#000"><tspan x="0" y="0" font-size="28.17">I</tspan><tspan x="7.83" y="5.63" font-size="20">LCC</tspan><tspan x="47.83" y="0" font-size="28.17"> </tspan><tspan x="55.66" y="1.13" font-size="32.39">(</tspan><tspan x="66.45" y="0" font-size="28.17">μA</tspan><tspan x="120.06" y="0" font-size="28.17">cm</tspan><tspan x="157.6" y="-15.49" font-size="19.15">2</tspan><tspan x="168.26" y="1.13" font-size="32.39">)</tspan></text><line x1="106.82" y1="5.35" x2="115.83" y2="-26.2" stroke="#000" stroke-width="1.3"/></g>
<line x1="507" y1="853.9" x2="513.7" y2="853.9" stroke="#000" stroke-width="2"/>
<g transform="translate(456.19 863)" fill="#000"><text x="0" y="0" font-size="22.8" font-family='"Liberation Sans", sans-serif' font-weight="normal">&#8722;0.6</text></g>
<line x1="507" y1="885.6" x2="513.7" y2="885.6" stroke="#000" stroke-width="2"/>
<g transform="translate(456.19 894.7)" fill="#000"><text x="0" y="0" font-size="22.8" font-family='"Liberation Sans", sans-serif' font-weight="normal">&#8722;0.7</text></g>
<line x1="507" y1="917.3" x2="513.7" y2="917.3" stroke="#000" stroke-width="2"/>
<g transform="translate(456.19 926.4)" fill="#000"><text x="0" y="0" font-size="22.8" font-family='"Liberation Sans", sans-serif' font-weight="normal">&#8722;0.8</text></g>
<line x1="507" y1="949" x2="513.7" y2="949" stroke="#000" stroke-width="2"/>
<g transform="translate(456.19 958.1)" fill="#000"><text x="0" y="0" font-size="22.8" font-family='"Liberation Sans", sans-serif' font-weight="normal">&#8722;0.9</text></g>
<line x1="507" y1="980.7" x2="513.7" y2="980.7" stroke="#000" stroke-width="2"/>
<g transform="translate(456.19 989.8)" fill="#000"><text x="0" y="0" font-size="22.8" font-family='"Liberation Sans", sans-serif'>&#8722; .0</text><path d="M19.83 0 L19.83 -13.97 L15.32 -11.24 L15.32 -13.25 L19.99 -15.92 L21.89 -15.92 L21.89 0Z"/></g>
<line x1="558.2" y1="994.8" x2="558.2" y2="1001.5" stroke="#000" stroke-width="2"/>
<g transform="translate(554.34 1026.3) scale(1.0300 1)" fill="#000"><text x="0" y="0" font-size="24.3" font-family='"Liberation Sans", sans-serif'> </text><path d="M6.94 0 L6.94 -14.89 L2.14 -11.98 L2.14 -14.12 L7.12 -16.97 L9.14 -16.97 L9.14 0Z"/></g>
<line x1="625.1" y1="994.8" x2="625.1" y2="1001.5" stroke="#000" stroke-width="2"/>
<g transform="translate(621.24 1026.3) scale(1.0300 1)" fill="#000"><text x="0" y="0" font-size="24.3" font-family='"Liberation Sans", sans-serif' font-weight="normal">2</text></g>
<line x1="691.3" y1="994.8" x2="691.3" y2="1001.5" stroke="#000" stroke-width="2"/>
<g transform="translate(687.44 1026.3) scale(1.0300 1)" fill="#000"><text x="0" y="0" font-size="24.3" font-family='"Liberation Sans", sans-serif' font-weight="normal">3</text></g>
<line x1="757.2" y1="994.8" x2="757.2" y2="1001.5" stroke="#000" stroke-width="2"/>
<g transform="translate(753.34 1026.3) scale(1.0300 1)" fill="#000"><text x="0" y="0" font-size="24.3" font-family='"Liberation Sans", sans-serif' font-weight="normal">4</text></g>
<path d="M526.6 842.7 L559.1 836.6 L592.2 862.5 L625.7 893.9 L658.8 923.3 L691.3 947.9 L724.1 963.3 L756.5 988.2" fill="none" stroke="#000" stroke-width="4" stroke-linejoin="round" stroke-linecap="round"/>
<circle cx="526.6" cy="842.7" r="4.1" fill="#f00"/>
<circle cx="559.1" cy="836.6" r="4.1" fill="#f00"/>
<circle cx="592.2" cy="862.5" r="4.1" fill="#f00"/>
<circle cx="625.7" cy="893.9" r="4.1" fill="#f00"/>
<circle cx="658.8" cy="923.3" r="4.1" fill="#f00"/>
<circle cx="691.3" cy="947.9" r="4.1" fill="#f00"/>
<circle cx="724.1" cy="963.3" r="4.1" fill="#f00"/>
<circle cx="756.5" cy="988.2" r="4.1" fill="#f00"/>
<path d="M513.2 827.9H517.3V995.3H513.2Z M513.2 827.9H769.1V831.2H513.2Z M765.8 827.9H769.1V995.3H765.8Z M513.2 991.9H769.1V995.3H513.2Z" fill="#000"/>
<g transform="translate(567.46 1058.7) scale(0.9850 1)" fill="#000"><text x="0" y="0" font-size="28.9" font-family='"Liberation Sans", sans-serif' font-weight="normal">Pacing (Hz)</text></g>
<g transform="translate(410.16 805.9) scale(0.9088 1)" fill="#000"><text x="0" y="0" font-size="47.5" font-family='"Liberation Serif", serif' font-weight="bold">K</text></g>
<g transform="translate(437.44 998.82) rotate(-90) scale(0.9913 1)"><text font-family='"Liberation Sans", sans-serif' fill="#000"><tspan x="0" y="0" font-size="27.55">I</tspan><tspan x="7.66" y="5.51" font-size="19.56">NCX</tspan><tspan x="48.96" y="0" font-size="27.55"> </tspan><tspan x="56.62" y="1.1" font-size="31.69">(</tspan><tspan x="67.17" y="0" font-size="27.55">μA</tspan><tspan x="119.61" y="0" font-size="27.55">cm</tspan><tspan x="156.34" y="-15.15" font-size="18.74">2</tspan><tspan x="166.76" y="1.1" font-size="31.69">)</tspan></text><line x1="106.66" y1="5.24" x2="115.47" y2="-25.63" stroke="#000" stroke-width="1.3"/></g>
<line x1="891" y1="857.1" x2="897.7" y2="857.1" stroke="#000" stroke-width="2"/>
<g transform="translate(840.82 866.2)" fill="#000"><text x="0" y="0" font-size="22.8" font-family='"Liberation Sans", sans-serif' font-weight="normal">37.0</text></g>
<line x1="891" y1="888.42" x2="897.7" y2="888.42" stroke="#000" stroke-width="2"/>
<g transform="translate(840.82 897.52)" fill="#000"><text x="0" y="0" font-size="22.8" font-family='"Liberation Sans", sans-serif' font-weight="normal">36.5</text></g>
<line x1="891" y1="919.74" x2="897.7" y2="919.74" stroke="#000" stroke-width="2"/>
<g transform="translate(840.82 928.84)" fill="#000"><text x="0" y="0" font-size="22.8" font-family='"Liberation Sans", sans-serif' font-weight="normal">36.0</text></g>
<line x1="891" y1="951.06" x2="897.7" y2="951.06" stroke="#000" stroke-width="2"/>
<g transform="translate(840.82 960.16)" fill="#000"><text x="0" y="0" font-size="22.8" font-family='"Liberation Sans", sans-serif' font-weight="normal">35.5</text></g>
<line x1="891" y1="982.38" x2="897.7" y2="982.38" stroke="#000" stroke-width="2"/>
<g transform="translate(840.82 991.48)" fill="#000"><text x="0" y="0" font-size="22.8" font-family='"Liberation Sans", sans-serif' font-weight="normal">35.0</text></g>
<line x1="943.5" y1="994.8" x2="943.5" y2="1001.5" stroke="#000" stroke-width="2"/>
<g transform="translate(936.24 1026.3) scale(1.0300 1)" fill="#000"><text x="0" y="0" font-size="24.3" font-family='"Liberation Sans", sans-serif'> </text><path d="M6.94 0 L6.94 -14.89 L2.14 -11.98 L2.14 -14.12 L7.12 -16.97 L9.14 -16.97 L9.14 0Z"/></g>
<line x1="1011.6" y1="994.8" x2="1011.6" y2="1001.5" stroke="#000" stroke-width="2"/>
<g transform="translate(1004.34 1026.3) scale(1.0300 1)" fill="#000"><text x="0" y="0" font-size="24.3" font-family='"Liberation Sans", sans-serif' font-weight="normal">2</text></g>
<line x1="1079.5" y1="994.8" x2="1079.5" y2="1001.5" stroke="#000" stroke-width="2"/>
<g transform="translate(1072.24 1026.3) scale(1.0300 1)" fill="#000"><text x="0" y="0" font-size="24.3" font-family='"Liberation Sans", sans-serif' font-weight="normal">3</text></g>
<line x1="1146.3" y1="994.8" x2="1146.3" y2="1001.5" stroke="#000" stroke-width="2"/>
<g transform="translate(1139.04 1026.3) scale(1.0300 1)" fill="#000"><text x="0" y="0" font-size="24.3" font-family='"Liberation Sans", sans-serif' font-weight="normal">4</text></g>
<path d="M910.2 988 L943.6 919.9 L978.3 866.1 L1012 840.1 L1046.1 836.8 L1079.8 842.8 L1113.8 851.6 L1146.6 888.2" fill="none" stroke="#000" stroke-width="4" stroke-linejoin="round" stroke-linecap="round"/>
<circle cx="910.2" cy="988" r="4.1" fill="#f00"/>
<circle cx="943.6" cy="919.9" r="4.1" fill="#f00"/>
<circle cx="978.3" cy="866.1" r="4.1" fill="#f00"/>
<circle cx="1012" cy="840.1" r="4.1" fill="#f00"/>
<circle cx="1046.1" cy="836.8" r="4.1" fill="#f00"/>
<circle cx="1079.8" cy="842.8" r="4.1" fill="#f00"/>
<circle cx="1113.8" cy="851.6" r="4.1" fill="#f00"/>
<circle cx="1146.6" cy="888.2" r="4.1" fill="#f00"/>
<path d="M897.2 827.9H901.3V995.3H897.2Z M897.2 827.9H1160V831.2H897.2Z M1156.7 827.9H1160V995.3H1156.7Z M897.2 991.9H1160V995.3H897.2Z" fill="#000"/>
<g transform="translate(953.26 1058.7) scale(0.9850 1)" fill="#000"><text x="0" y="0" font-size="28.9" font-family='"Liberation Sans", sans-serif' font-weight="normal">Pacing (Hz)</text></g>
<g transform="translate(804.71 805.9) scale(0.8575 1)" fill="#000"><text x="0" y="0" font-size="47.19" font-family='"Liberation Serif", serif' font-weight="bold">L</text></g>
<g transform="translate(821.03 1000.25) rotate(-90) scale(0.9454 1)"><text font-family='"Liberation Sans", sans-serif' fill="#000"><tspan x="0" y="0" font-size="29.37">AP Peak </tspan><tspan x="122.45" y="0.88" font-size="32.31">(</tspan><tspan x="133.21" y="0" font-size="29.37">mV</tspan><tspan x="177.26" y="0.88" font-size="32.31">)</tspan></text></g>
<path d="M52.6 204.3 C54.5 206.9 59.6 206.9 61.4 204.3 L61.4 205.3 C59.6 207.6 54.5 207.6 52.6 205.3 Z" fill="#000"/>
<rect x="65.2" y="203.6" width="2.2" height="3.1" fill="#000"/>
<path d="M442 204.3 L445.6 205.1 L444.6 206.9 Z" fill="#000"/>
</svg>
</body></html>
